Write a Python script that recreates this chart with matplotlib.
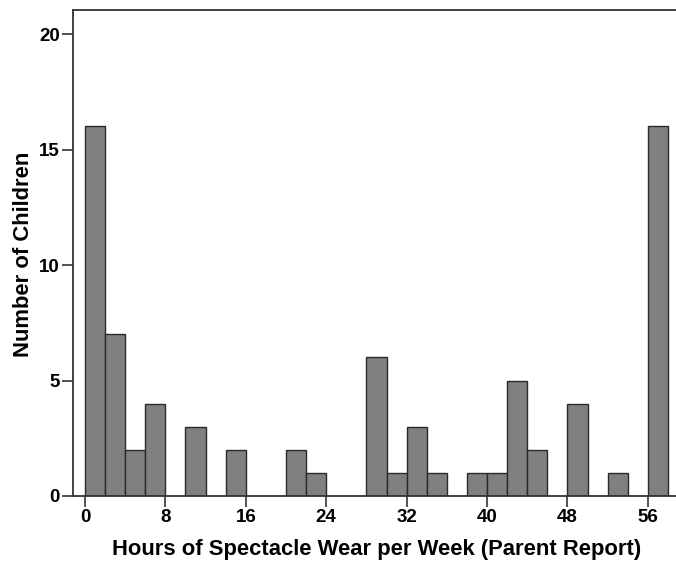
import matplotlib
matplotlib.use("Agg")
import matplotlib.pyplot as plt

bin_starts = [0, 2, 4, 6, 8, 10, 12, 14, 16, 18, 20, 22, 24, 26, 28,
              30, 32, 34, 36, 38, 40, 42, 44, 46, 48, 50, 52, 54, 56]
counts = [16, 7, 2, 4, 0, 3, 0, 2, 0, 0, 2, 1, 0, 0, 6,
          1, 3, 1, 0, 1, 1, 5, 2, 0, 4, 0, 1, 0, 16]
bin_width = 2
x_ticks = [0, 8, 16, 24, 32, 40, 48, 56]
y_ticks = [0, 5, 10, 15, 20]
x_label = "Hours of Spectacle Wear per Week (Parent Report)"
y_label = "Number of Children"

plt.rcParams['font.family'] = ['Liberation Sans', 'DejaVu Sans']

fig = plt.figure(figsize=(6.76, 5.63), dpi=100)
ax = fig.add_axes([73/676, 1 - 496/563, 1 - 73/676, (496 - 10)/563])

for s, c in zip(bin_starts, counts):
    if c > 0:
        ax.bar(s, c, width=bin_width, align='edge', color='#808080',
               edgecolor='#2a2a2a', linewidth=1.0, zorder=2)

ax.set_xlim(-1.19, 58.8)
ax.set_ylim(0, 21.04)
ax.set_xticks(x_ticks)
ax.set_yticks(y_ticks)
ax.tick_params(axis='both', direction='out', length=8, width=1.2, color='#333333',
               labelsize=13.5, pad=1.5)
for lab in ax.get_xticklabels() + ax.get_yticklabels():
    lab.set_fontweight('bold')

for side in ['left', 'bottom', 'top']:
    ax.spines[side].set_linewidth(1.3)
    ax.spines[side].set_color('#333333')
ax.spines['right'].set_visible(False)

ax.set_xlabel(x_label, fontsize=15.8, fontweight='bold')
ax.set_ylabel(y_label, fontsize=15.8, fontweight='bold')
ax.xaxis.set_label_coords(0.503, -0.088)
ax.yaxis.set_label_coords(-0.0647, 0.497)

fig.savefig("out.png", dpi=100)
